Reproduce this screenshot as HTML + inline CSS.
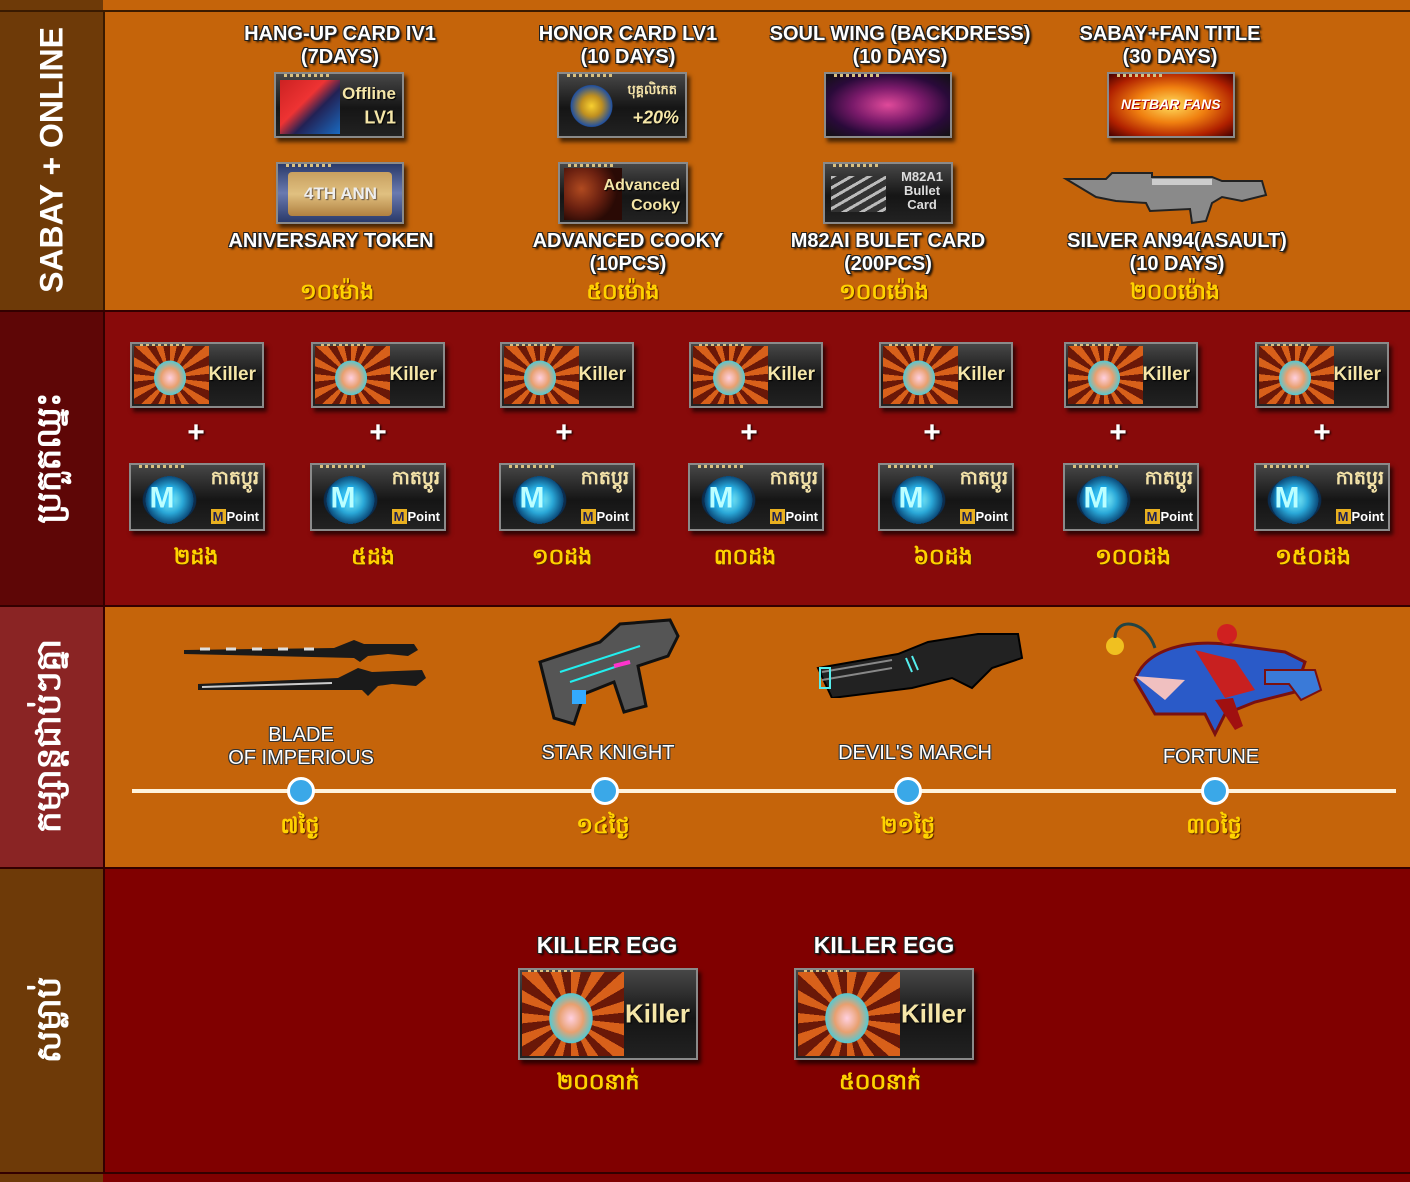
<!DOCTYPE html>
<html><head><meta charset="utf-8"><style>
*{margin:0;padding:0;box-sizing:border-box}
body{width:1410px;height:1182px;position:relative;overflow:hidden;font-family:"Liberation Sans","DejaVu Sans",sans-serif;background:#800000}
.a{position:absolute}
.lbl{position:absolute;transform:translateX(-50%);color:#fff;font-weight:bold;font-size:20px;text-align:center;line-height:23px;white-space:nowrap;text-shadow:-1px -1px 0 #222,1px -1px 0 #222,-1px 1px 0 #222,1px 1px 0 #222,2px 2px 2px #000}
.yel{position:absolute;transform:translateX(-50%);color:#ffd200;font-weight:bold;font-size:22px;white-space:nowrap;font-family:"DejaVu Sans","Liberation Sans",sans-serif;text-shadow:1px 1px 1px #5a2000}
.side{position:absolute;left:52px;transform:translate(-50%,-50%) rotate(-90deg);color:#fff;font-weight:bold;font-size:34px;white-space:nowrap;font-family:"DejaVu Sans","Liberation Sans",sans-serif}
.card{position:absolute;background:linear-gradient(#474747,#151515 55%,#222);border:2px solid #8a8a8a;box-shadow:3px 4px 4px rgba(0,0,0,.65);overflow:hidden}
.card:before{content:"";position:absolute;left:8px;top:0;width:45px;height:3px;background:repeating-linear-gradient(90deg,#d8c080 0 3px,transparent 3px 6px)}
.egg{position:absolute;left:2px;top:2px;bottom:2px;width:58%;background:radial-gradient(ellipse 30% 42% at 48% 55%,#ffd0e0,#e8a070 40%,#58c8d0 70%,transparent 72%),repeating-conic-gradient(from 0deg at 48% 55%,#d8601a 0 12deg,#6a1808 12deg 24deg)}
.kt{position:absolute;right:6px;top:50%;transform:translateY(-50%);color:#f5e6a8;font-weight:bold;font-size:19px;text-shadow:1px 1px 1px #000}
.mp{position:absolute;left:4px;top:2px;bottom:2px;width:52%;background:radial-gradient(circle at 50% 55%,#9ff 0,#2aa8d8 28%,#0a4a7a 50%,#062 0%,transparent 0),radial-gradient(ellipse 48% 46% at 50% 55%,#1e6fa0,#0b2a4a 80%,transparent 82%)}
.mm{position:absolute;left:14%;top:50%;transform:translateY(-45%);color:#bff;font-weight:bold;font-size:30px;text-shadow:0 0 4px #0af}
.mk{position:absolute;right:4px;top:1px;color:#f3e2a8;font-size:19px;font-family:"DejaVu Sans",sans-serif;font-weight:bold}
.mpt{position:absolute;right:4px;bottom:5px;color:#fff;font-weight:bold;font-size:13px}
.mpt b{background:#e8b020;color:#225;padding:0 2px;margin-right:1px}
.plus{position:absolute;transform:translateX(-50%);color:#fff;font-weight:bold;font-size:30px;text-shadow:1px 1px 2px #000}
.dot{position:absolute;width:28px;height:28px;border-radius:50%;background:#3aa8e8;border:3px solid #fff;transform:translate(-50%,-50%)}
</style></head><body>
<!-- backgrounds -->
<div class="a" style="left:0;top:0;width:103px;height:10px;background:#6e3a08"></div>
<div class="a" style="left:103px;top:0;width:1307px;height:10px;background:#c5640a"></div>
<div class="a" style="left:0;top:10px;width:103px;height:300px;background:#6e3a08;border-top:2px solid #3a1a00"></div>
<div class="a" style="left:103px;top:10px;width:1307px;height:300px;background:#c5640a;border-top:2px solid #3a1a00;border-left:2px solid #3a1a00"></div>
<div class="a" style="left:0;top:310px;width:103px;height:295px;background:#5e0606;border-top:2px solid #300"></div>
<div class="a" style="left:103px;top:310px;width:1307px;height:295px;background:#880a0a;border-top:2px solid #300;border-left:2px solid #300"></div>
<div class="a" style="left:0;top:605px;width:103px;height:262px;background:#8a2424;border-top:2px solid #300"></div>
<div class="a" style="left:103px;top:605px;width:1307px;height:262px;background:#c5640a;border-top:2px solid #300;border-left:2px solid #300"></div>
<div class="a" style="left:0;top:867px;width:103px;height:305px;background:#6e3a08;border-top:2px solid #300"></div>
<div class="a" style="left:103px;top:867px;width:1307px;height:305px;background:#800000;border-top:2px solid #300;border-left:2px solid #300"></div>
<div class="a" style="left:0;top:1172px;width:103px;height:10px;background:#6e3a08;border-top:2px solid #300"></div>
<div class="a" style="left:103px;top:1172px;width:1307px;height:10px;background:#800000;border-top:2px solid #300"></div>

<div class="side" style="top:160px;font-family:'Liberation Sans',sans-serif;font-size:32px">SABAY + ONLINE</div>
<div class="side" style="top:458px">ប្រកួតឈ្នះ</div>
<div class="side" style="top:736px">កម្សាន្តជាប់ៗគ្នា</div>
<div class="side" style="top:1020px">សម្លាប់</div>

<!-- Section 1 -->
<div class="lbl" style="left:340px;top:23px">HANG-UP CARD IV1<br>(7DAYS)</div>
<div class="lbl" style="left:628px;top:23px">HONOR CARD LV1<br>(10 DAYS)</div>
<div class="lbl" style="left:900px;top:23px">SOUL WING (BACKDRESS)<br>(10 DAYS)</div>
<div class="lbl" style="left:1170px;top:23px">SABAY+FAN TITLE<br>(30 DAYS)</div>

<div class="card" style="left:274px;top:72px;width:130px;height:66px"><div class="a" style="left:4px;top:6px;width:60px;height:54px;background:linear-gradient(135deg,#c22 0,#e33 40%,#225 60%,#1a6ac0)"></div><div class="kt" style="top:20px;font-size:17px">Offline</div><div class="kt" style="top:44px;font-size:18px">LV1</div></div>
<div class="card" style="left:557px;top:72px;width:130px;height:66px"><div class="a" style="left:10px;top:6px;width:45px;height:52px;background:radial-gradient(circle,#f8d030 0,#c09020 30%,#2050a0 60%,transparent 62%)"></div><div class="kt" style="top:44px;font-size:18px;font-style:italic">+20%</div><div class="a" style="right:8px;top:8px;color:#f3e2a8;font-size:13px;font-weight:bold">បុគ្គលិកេត</div></div>
<div class="card" style="left:824px;top:72px;width:128px;height:66px;background:radial-gradient(ellipse at 50% 50%,#e04a9a,#7a1a6a 40%,#2a0a3a 70%,#111)"></div>
<div class="card" style="left:1107px;top:72px;width:128px;height:66px;background:radial-gradient(ellipse at 50% 50%,#ffe060,#f08010 40%,#b02000 75%,#400)"><div class="a" style="left:12px;top:22px;color:#fff;font-weight:bold;font-style:italic;font-size:14px;text-shadow:1px 1px 0 #a00">NETBAR FANS</div></div>

<div class="card" style="left:276px;top:162px;width:128px;height:62px;background:linear-gradient(#2a3a6a,#6a7ab0,#2a3a6a)"><div class="a" style="left:10px;top:8px;width:104px;height:44px;background:linear-gradient(#c8a060,#e0c080,#b08040);border-radius:4px"></div><div class="a" style="left:26px;top:20px;color:#eee;font-weight:bold;font-size:17px;text-shadow:1px 1px 1px #654">4TH ANN</div></div>
<div class="card" style="left:558px;top:162px;width:130px;height:62px"><div class="a" style="left:4px;top:4px;width:58px;height:52px;background:radial-gradient(circle at 30% 40%,#b04a20,#6a2010 40%,#2a0a05 70%)"></div><div class="kt" style="top:22px;font-size:16px">Advanced</div><div class="kt" style="top:42px;font-size:16px">Cooky</div></div>
<div class="card" style="left:823px;top:162px;width:130px;height:62px"><div class="a" style="left:6px;top:12px;width:55px;height:36px;background:repeating-linear-gradient(150deg,#bbb 0 3px,#333 3px 9px)"></div><div class="a" style="right:8px;top:6px;color:#ddd;font-weight:bold;font-size:13px;text-align:center;line-height:14px">M82A1<br>Bullet<br>Card</div></div>
<svg class="a" style="left:1062px;top:165px" width="208" height="60" viewBox="0 0 208 60"><path d="M4 14h40l6-6h40v4h60l10 4h40l4 14-24 6-20-4-10 6-6 18-14 2-2-14-40 2-4-8-30-2-20-4z" fill="#8a8a8a" stroke="#222" stroke-width="2"/><path d="M90 14h60v6H90z" fill="#ccc"/></svg>

<div class="lbl" style="left:331px;top:230px">ANIVERSARY TOKEN</div>
<div class="lbl" style="left:628px;top:230px">ADVANCED COOKY<br>(10PCS)</div>
<div class="lbl" style="left:888px;top:230px">M82AI BULET CARD<br>(200PCS)</div>
<div class="lbl" style="left:1177px;top:230px">SILVER AN94(ASAULT)<br>(10 DAYS)</div>
<div class="yel" style="left:337px;top:278px">១០ម៉ោង</div>
<div class="yel" style="left:623px;top:278px">៥០ម៉ោង</div>
<div class="yel" style="left:884px;top:278px">១០០ម៉ោង</div>
<div class="yel" style="left:1175px;top:278px">២០០ម៉ោង</div>

<!-- Section 2 -->
<div class="card" style="left:130px;top:342px;width:134px;height:66px"><div class="egg"></div><div class="kt">Killer</div></div>
<div class="card" style="left:311px;top:342px;width:134px;height:66px"><div class="egg"></div><div class="kt">Killer</div></div>
<div class="card" style="left:500px;top:342px;width:134px;height:66px"><div class="egg"></div><div class="kt">Killer</div></div>
<div class="card" style="left:689px;top:342px;width:134px;height:66px"><div class="egg"></div><div class="kt">Killer</div></div>
<div class="card" style="left:879px;top:342px;width:134px;height:66px"><div class="egg"></div><div class="kt">Killer</div></div>
<div class="card" style="left:1064px;top:342px;width:134px;height:66px"><div class="egg"></div><div class="kt">Killer</div></div>
<div class="card" style="left:1255px;top:342px;width:134px;height:66px"><div class="egg"></div><div class="kt">Killer</div></div>

<div class="plus" style="left:196px;top:416px">+</div>
<div class="plus" style="left:378px;top:416px">+</div>
<div class="plus" style="left:564px;top:416px">+</div>
<div class="plus" style="left:749px;top:416px">+</div>
<div class="plus" style="left:932px;top:416px">+</div>
<div class="plus" style="left:1118px;top:416px">+</div>
<div class="plus" style="left:1322px;top:416px">+</div>

<div class="card" style="left:129px;top:463px;width:136px;height:68px"><div class="mp"></div><div class="mm">M</div><div class="mk">កាតប្តូរ</div><div class="mpt"><b>M</b>Point</div></div>
<div class="card" style="left:310px;top:463px;width:136px;height:68px"><div class="mp"></div><div class="mm">M</div><div class="mk">កាតប្តូរ</div><div class="mpt"><b>M</b>Point</div></div>
<div class="card" style="left:499px;top:463px;width:136px;height:68px"><div class="mp"></div><div class="mm">M</div><div class="mk">កាតប្តូរ</div><div class="mpt"><b>M</b>Point</div></div>
<div class="card" style="left:688px;top:463px;width:136px;height:68px"><div class="mp"></div><div class="mm">M</div><div class="mk">កាតប្តូរ</div><div class="mpt"><b>M</b>Point</div></div>
<div class="card" style="left:878px;top:463px;width:136px;height:68px"><div class="mp"></div><div class="mm">M</div><div class="mk">កាតប្តូរ</div><div class="mpt"><b>M</b>Point</div></div>
<div class="card" style="left:1063px;top:463px;width:136px;height:68px"><div class="mp"></div><div class="mm">M</div><div class="mk">កាតប្តូរ</div><div class="mpt"><b>M</b>Point</div></div>
<div class="card" style="left:1254px;top:463px;width:136px;height:68px"><div class="mp"></div><div class="mm">M</div><div class="mk">កាតប្តូរ</div><div class="mpt"><b>M</b>Point</div></div>

<div class="yel" style="left:196px;top:543px">២ដង</div>
<div class="yel" style="left:373px;top:543px">៥ដង</div>
<div class="yel" style="left:562px;top:543px">១០ដង</div>
<div class="yel" style="left:745px;top:543px">៣០ដង</div>
<div class="yel" style="left:943px;top:543px">៦០ដង</div>
<div class="yel" style="left:1133px;top:543px">១០០ដង</div>
<div class="yel" style="left:1313px;top:543px">១៥០ដង</div>

<!-- Section 3 -->
<svg class="a" style="left:180px;top:632px" width="250" height="70" viewBox="0 0 250 70"><path d="M4 18l150-2 20-8 10 4 50 0 4 6-10 6-20-2-20 2-8 6-6-4-170-4z" fill="#1a1a1a"/><path d="M20 17h10M46 17h10M72 17h10M98 17h10M124 17h10" stroke="#ddd" stroke-width="3"/><path d="M18 52l140-6 20-10 14 4 50-2 4 8-10 8-24-2-14 2-10 10-6-6-164 0z" fill="#1a1a1a"/><path d="M22 55l130-4" stroke="#ccc" stroke-width="2"/></svg>
<svg class="a" style="left:530px;top:612px" width="160" height="120" viewBox="0 0 160 120"><path d="M10 50l60-20 20-18 50-4 8 16-10 20-30 10 8 40-22 6-10-30-30 12-10 30-20-6z" fill="#555" stroke="#111" stroke-width="3"/><path d="M30 60l80-26M40 70l60-20" stroke="#2ee" stroke-width="2"/><rect x="42" y="78" width="14" height="14" fill="#3af"/><path d="M84 54l16-4" stroke="#f3c" stroke-width="4"/></svg>
<svg class="a" style="left:812px;top:628px" width="215" height="70" viewBox="0 0 215 70"><path d="M6 40l80-14 30-12 50-8 40 0 4 24-30 10-20 20-20-10-40 10-80 10z" fill="#222" stroke="#000" stroke-width="2"/><path d="M10 44l70-12M10 52l70-12" stroke="#888" stroke-width="2"/><path d="M8 40h10v20H8z" fill="none" stroke="#5ee" stroke-width="2"/><path d="M94 30l6 14M100 28l6 14" stroke="#5ee" stroke-width="2"/></svg>
<svg class="a" style="left:1095px;top:610px" width="235" height="130" viewBox="0 0 235 130"><path d="M40 70c10-30 50-40 90-36l60 8 20 10-10 30-40 10-30 12-10 20-10-20-50 0z" fill="#2a5ac8" stroke="#7a1010" stroke-width="3"/><path d="M40 66l50 4-20 20z" fill="#f0c0c0"/><circle cx="132" cy="24" r="10" fill="#d02020"/><path d="M100 40l40 10 20 30-30 8z" fill="#c82020"/><path d="M170 60h50l6 20-20 10-12-16-24 0z" fill="#3a7ad8" stroke="#7a1010" stroke-width="2"/><path d="M120 90l20 30 8-4-10-28z" fill="#a01010"/><circle cx="20" cy="36" r="9" fill="#f0c020"/><path d="M20 28c0-20 30-20 40 10" stroke="#244" stroke-width="3" fill="none"/></svg>

<div class="lbl" style="left:301px;top:724px;font-weight:normal;text-shadow:-1px -1px 0 #333,1px -1px 0 #333,-1px 1px 0 #333,1px 1px 0 #333">BLADE<br>OF IMPERIOUS</div>
<div class="lbl" style="left:608px;top:742px;font-weight:normal;text-shadow:-1px -1px 0 #333,1px -1px 0 #333,-1px 1px 0 #333,1px 1px 0 #333">STAR KNIGHT</div>
<div class="lbl" style="left:915px;top:742px;font-weight:normal;text-shadow:-1px -1px 0 #333,1px -1px 0 #333,-1px 1px 0 #333,1px 1px 0 #333">DEVIL'S MARCH</div>
<div class="lbl" style="left:1211px;top:746px;font-weight:normal;text-shadow:-1px -1px 0 #333,1px -1px 0 #333,-1px 1px 0 #333,1px 1px 0 #333">FORTUNE</div>

<div class="a" style="left:132px;top:789px;width:1264px;height:4px;background:#fff3dc"></div>
<div class="dot" style="left:301px;top:791px"></div>
<div class="dot" style="left:605px;top:791px"></div>
<div class="dot" style="left:908px;top:791px"></div>
<div class="dot" style="left:1215px;top:791px"></div>
<div class="yel" style="left:300px;top:812px">៧ថ្ងៃ</div>
<div class="yel" style="left:603px;top:812px">១៤ថ្ងៃ</div>
<div class="yel" style="left:908px;top:812px">២១ថ្ងៃ</div>
<div class="yel" style="left:1214px;top:812px">៣០ថ្ងៃ</div>

<!-- Section 4 -->
<div class="lbl" style="left:607px;top:934px;font-size:23px">KILLER EGG</div>
<div class="lbl" style="left:884px;top:934px;font-size:23px">KILLER EGG</div>
<div class="card" style="left:518px;top:968px;width:180px;height:92px"><div class="egg"></div><div class="kt" style="font-size:26px">Killer</div></div>
<div class="card" style="left:794px;top:968px;width:180px;height:92px"><div class="egg"></div><div class="kt" style="font-size:26px">Killer</div></div>
<div class="yel" style="left:598px;top:1068px">២០០នាក់</div>
<div class="yel" style="left:880px;top:1068px">៥០០នាក់</div>
</body></html>
